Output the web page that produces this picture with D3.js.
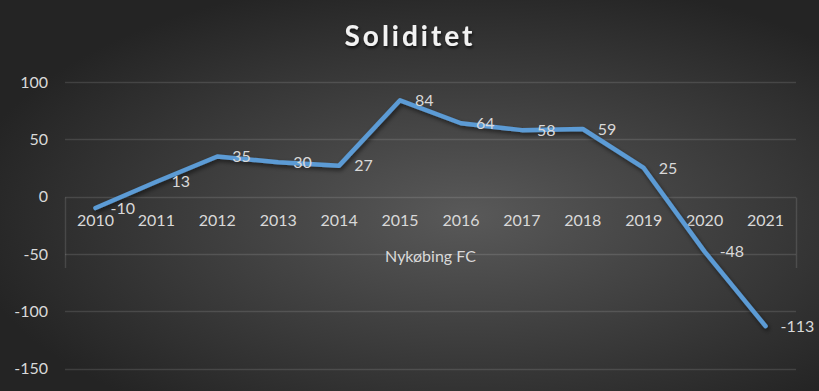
<!DOCTYPE html>
<html><head><meta charset="utf-8">
<script src="https://cdn.jsdelivr.net/npm/d3@7"></script>
<style>
html,body{margin:0;padding:0;background:#262626;}
svg{display:block;}
text{font-family:Lato,"Open Sans",sans-serif;}
</style></head>
<body>
<svg id="chart" width="819" height="391"></svg>
<script>
const title = "Soliditet";
const groupLabel = "Nykøbing FC";
const years = ["2010","2011","2012","2013","2014","2015","2016","2017","2018","2019","2020","2021"];
const values = [-10, 13, 35, 30, 27, 84, 64, 58, 59, 25, -48, -113];
const yTicks = [100, 50, 0, -50, -100, -150];

const W = 819, H = 391;
const svg = d3.select("#chart");
const defs = svg.append("defs");
const rg = defs.append("radialGradient").attr("id","bg")
  .attr("cx","57%").attr("cy","55%").attr("r","62%");
rg.append("stop").attr("offset","0%").attr("stop-color","#595959");
rg.append("stop").attr("offset","100%").attr("stop-color","#242424");
const f = defs.append("filter").attr("id","sh").attr("x","-10%").attr("y","-10%").attr("width","120%").attr("height","130%");
f.append("feDropShadow").attr("dx",1.5).attr("dy",2.5).attr("stdDeviation",2).attr("flood-color","#000").attr("flood-opacity",0.55);
const f2 = defs.append("filter").attr("id","tsh").attr("x","-10%").attr("y","-20%").attr("width","120%").attr("height","150%");
f2.append("feDropShadow").attr("dx",1).attr("dy",2).attr("stdDeviation",1.5).attr("flood-color","#000").attr("flood-opacity",0.7);

svg.append("rect").attr("width",W).attr("height",H).attr("fill","url(#bg)");

const x = d3.scaleBand().domain(years).range([65, 796]);
const y = d3.scaleLinear().domain([-150, 100]).range([368.5, 82]);
const cx = d => x(d) + x.bandwidth()/2;

// gridlines
svg.append("g").selectAll("line").data(yTicks).join("line")
  .attr("x1",65).attr("x2",796)
  .attr("y1",d=>Math.round(y(d))+0.5).attr("y2",d=>Math.round(y(d))+0.5)
  .attr("stroke","rgba(255,255,255,0.12)").attr("stroke-width",1.5);

// y axis labels
svg.append("g").selectAll("text").data(yTicks).join("text")
  .attr("x",48).attr("y",d=>y(d)).attr("dy","0.36em")
  .attr("text-anchor","end").attr("font-size",16).attr("fill","#d9d9d9")
  .text(d=>d);

// multi-level category axis dividers
const y0 = Math.round(y(0))+0.5;
svg.append("g").selectAll("line").data([65, 796]).join("line")
  .attr("x1",d=>d+0.5).attr("x2",d=>d+0.5).attr("y1",y0).attr("y2",268)
  .attr("stroke","rgba(255,255,255,0.12)").attr("stroke-width",1.5);

svg.append("g").selectAll("text").data(years).join("text")
  .attr("x",d=>cx(d)).attr("y",226)
  .attr("text-anchor","middle").attr("font-size",16).attr("fill","#d9d9d9")
  .text(d=>d);

svg.append("text").attr("x",(65+796)/2).attr("y",262)
  .attr("text-anchor","middle").attr("font-size",16).attr("fill","#d9d9d9")
  .text(groupLabel);

// line
const line = d3.line().x((d,i)=>cx(years[i])).y(d=>y(d));
svg.append("path").datum(values).attr("d",line)
  .attr("fill","none").attr("stroke","#5b9bd5").attr("stroke-width",4.5)
  .attr("stroke-linejoin","round").attr("stroke-linecap","round")
  .attr("filter","url(#sh)");

// data labels
svg.append("g").selectAll("text").data(values).join("text")
  .attr("x",(d,i)=>cx(years[i])+15).attr("y",d=>y(d)).attr("dy","0.36em")
  .attr("font-size",16).attr("fill","#d9d9d9")
  .text(d=>d);

// title
svg.append("text").attr("x",410).attr("y",46)
  .attr("text-anchor","middle").attr("font-size",28).attr("font-weight","bold")
  .attr("letter-spacing",3).attr("fill","#f2f2f2").attr("filter","url(#tsh)")
  .text(title);
</script>
</body></html>
